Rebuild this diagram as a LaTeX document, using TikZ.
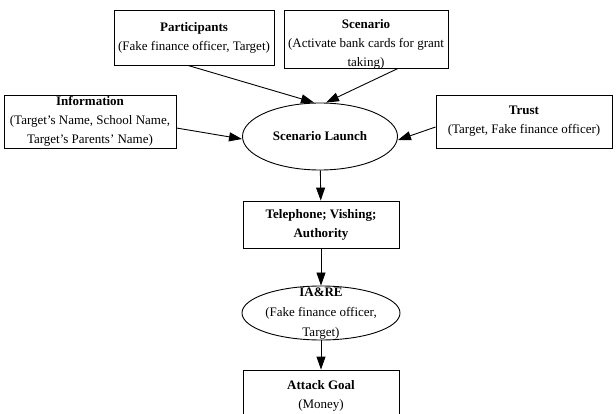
\documentclass[tikz,border=0pt]{standalone}
\usepackage{fontspec}
\setmainfont{Liberation Serif}
\usetikzlibrary{shapes.geometric,arrows.meta}
\begin{document}
\begin{tikzpicture}[x=1pt,y=-1pt,
  every node/.style={font=\fontsize{13}{19}\selectfont, align=center},
  box/.style={draw, line width=0.9pt, rectangle, inner sep=0pt},
  oval/.style={draw, line width=0.9pt, ellipse, inner sep=0pt},
  txt/.style={inner sep=0pt},
  link/.style={line width=0.9pt, -{Triangle[length=13pt,width=9pt]}}]
\useasboundingbox (0,0) rectangle (616,414);

% upper context boxes
\node[box, minimum width=160pt, minimum height=55pt] (part) at (194,37.5)
  {\textbf{Participants}\\(Fake finance officer, Target)};
\node[box, minimum width=164pt, minimum height=58pt] (scen) at (366,39) {};
\node[txt] (scentext) at (366,44)
  {\textbf{Scenario}\\(Activate bank cards for grant\\taking)};
\node[box, minimum width=172pt, minimum height=53pt] (info) at (90,121.5)
  {\textbf{Information}\\(Target's Name, School Name,\\Target's Parents' Name)};
\node[box, minimum width=176pt, minimum height=53pt] (trust) at (524,121.5)
  {\textbf{Trust}\\(Target, Fake finance officer)};

% central chain
\node[oval, minimum width=155pt, minimum height=67pt] (launch) at (320,136.5)
  {\textbf{Scenario Launch}};
\node[box, minimum width=156pt, minimum height=47pt] (tel) at (321,224.5)
  {\textbf{Telephone; Vishing;}\\\textbf{Authority}};
\node[oval, minimum width=158pt, minimum height=54pt] (iare) at (321,313) {};
\node[txt, font=\fontsize{13}{20}\selectfont] (iaretext) at (321,313.5)
  {\textbf{IA\&RE}\\(Fake finance officer,\\Target)};
\node[box, minimum width=156pt, minimum height=52pt] (goal) at (321,396)
  {\textbf{Attack Goal}\\(Money)};

% connectors
\draw[link] (part.south -| 188,0) -- (launch.north -| 314,0);
\draw[link] (scen.south -| 398,0) -- (launch.north -| 326,0);
\draw[link] (info.east |- 0,128) -- (launch.west |- 0,139);
\draw[link] (trust.west |- 0,127) -- (launch.east |- 0,140);
\draw[link] (launch) -- (tel);
\draw[link] (tel) -- (iare);
\draw[link] (iare) -- (goal);
\end{tikzpicture}
\end{document}
